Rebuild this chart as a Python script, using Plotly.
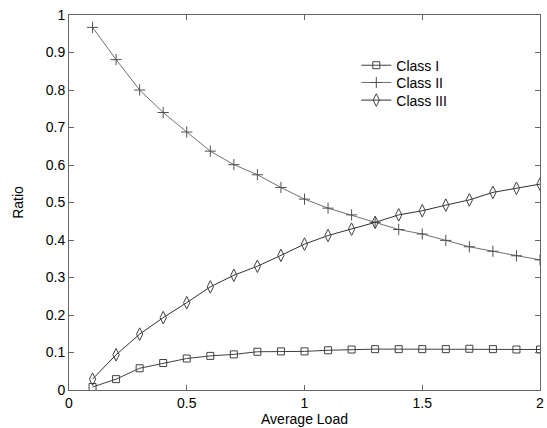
import plotly.graph_objects as go

load = [0.1, 0.2, 0.3, 0.4, 0.5, 0.6, 0.7, 0.8, 0.9, 1.0,
        1.1, 1.2, 1.3, 1.4, 1.5, 1.6, 1.7, 1.8, 1.9, 2.0]
class_i = [0.008, 0.029, 0.058, 0.072, 0.084, 0.091, 0.095, 0.102, 0.103, 0.103,
           0.106, 0.108, 0.109, 0.109, 0.109, 0.109, 0.110, 0.109, 0.108, 0.108]
class_ii = [0.967, 0.881, 0.800, 0.740, 0.688, 0.637, 0.601, 0.574, 0.540, 0.509,
            0.485, 0.467, 0.447, 0.428, 0.416, 0.399, 0.382, 0.370, 0.358, 0.347]
class_iii = [0.029, 0.094, 0.149, 0.193, 0.233, 0.275, 0.306, 0.330, 0.359, 0.389,
             0.412, 0.429, 0.447, 0.467, 0.478, 0.493, 0.507, 0.527, 0.538, 0.549]

x_ticks = [0, 0.5, 1, 1.5, 2]
x_tick_text = ["0", "0.5", "1", "1.5", "2"]
y_ticks = [0, 0.1, 0.2, 0.3, 0.4, 0.5, 0.6, 0.7, 0.8, 0.9, 1]
y_tick_text = ["0", "0.1", "0.2", "0.3", "0.4", "0.5", "0.6", "0.7", "0.8", "0.9", "1"]

FONT = "Liberation Sans, Arial, sans-serif"

fig = go.Figure()
fig.add_trace(go.Scatter(
    x=load, y=class_i, name="Class I", mode="lines+markers", legend="legend",
    line=dict(color="#404040", width=1),
    marker=dict(symbol="square-open", size=7, color="#404040", line=dict(width=1))))
fig.add_trace(go.Scatter(
    x=load, y=class_ii, name="Class II", mode="lines+markers", legend="legend2",
    line=dict(color="#707070", width=1),
    marker=dict(symbol="cross-thin-open", size=8, color="#505050", line=dict(width=1, color="#505050"))))
fig.add_trace(go.Scatter(
    x=load, y=class_iii, name="Class III", mode="lines+markers", legend="legend3",
    line=dict(color="#303030", width=1),
    marker=dict(symbol="diamond-tall-open", size=9, color="#404040", line=dict(width=1))))

axis_common = dict(
    showgrid=False, zeroline=False, showline=True, linecolor="#666666", linewidth=1,
    mirror="ticks", ticks="inside", ticklen=5, tickcolor="#666666",
    tickfont=dict(family=FONT, size=14, color="black"),
)

def leg(yc):
    return dict(x=0.61, y=yc, xanchor="left", yanchor="middle",
                bgcolor="rgba(0,0,0,0)", font=dict(family=FONT, size=14, color="black"),
                itemwidth=30)

fig.update_layout(
    width=547, height=428,
    margin=dict(l=69, r=3, t=15, b=36),
    paper_bgcolor="white", plot_bgcolor="white",
    font=dict(family=FONT, size=14, color="black"),
    showlegend=True,
    legend=leg(0.865),
    legend2=leg(0.819),
    legend3=leg(0.772),
    xaxis=dict(range=[0, 2], tickvals=x_ticks, ticktext=x_tick_text,
               ticklabeloverflow="allow",
               title=dict(text="Average Load", font=dict(family=FONT, size=14), standoff=4),
               **axis_common),
    yaxis=dict(range=[0, 1], tickvals=y_ticks, ticktext=y_tick_text,
               title=dict(text="Ratio", font=dict(family=FONT, size=14), standoff=18),
               **axis_common),
)

fig.write_html("out.html")
